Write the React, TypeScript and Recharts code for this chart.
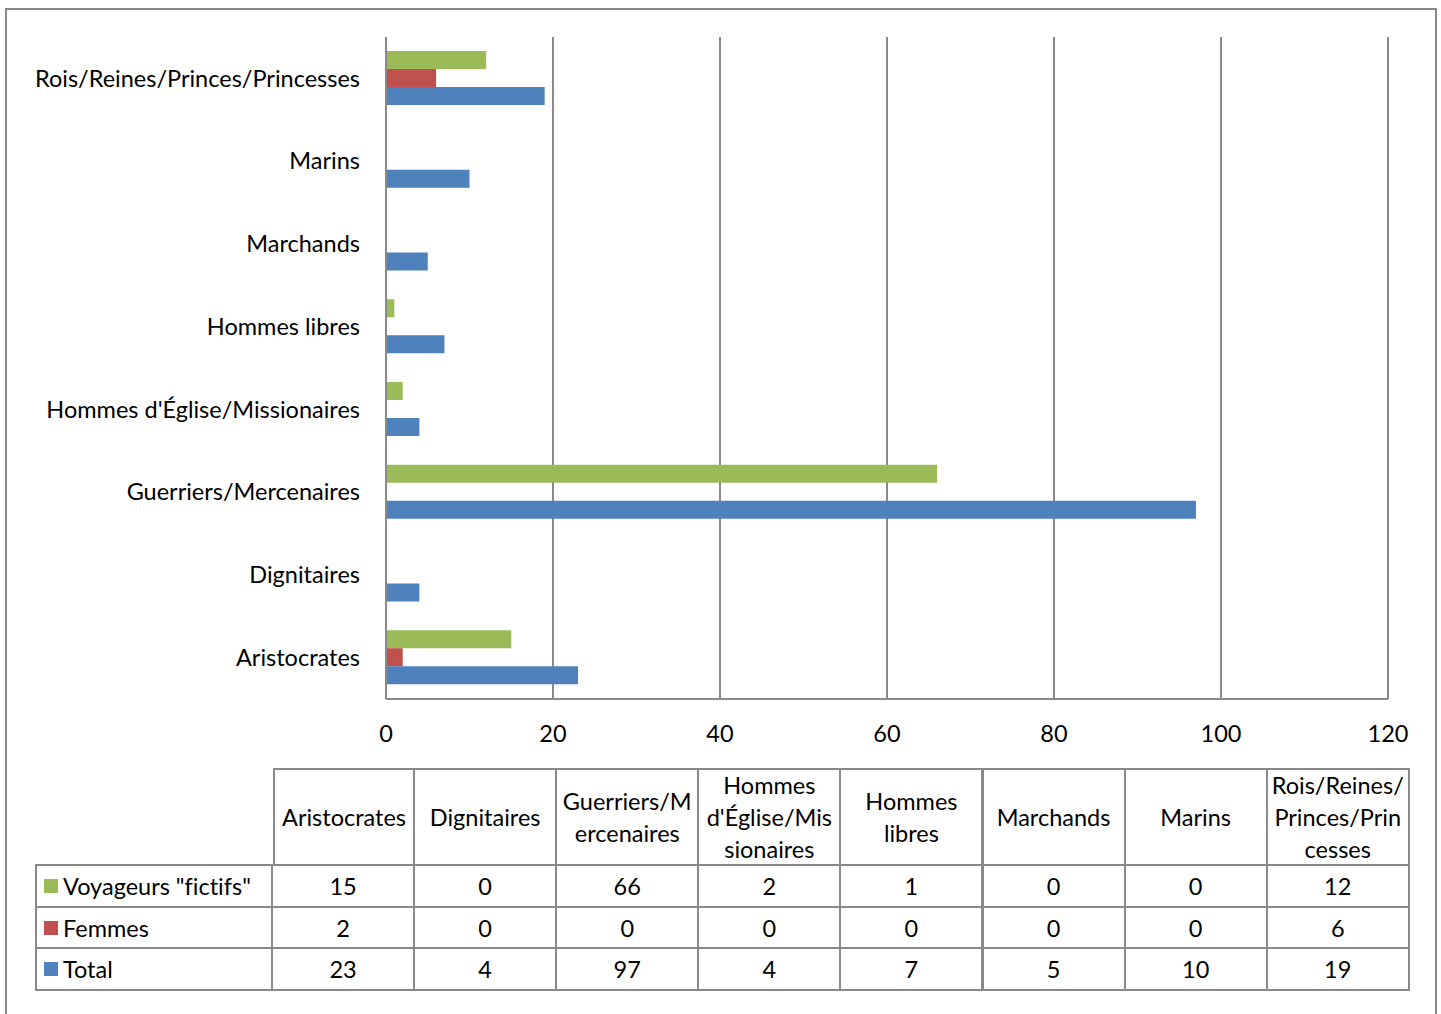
import React from "react";
import { BarChart, Bar, XAxis, YAxis, CartesianGrid } from "recharts";

const categories = [
  "Aristocrates",
  "Dignitaires",
  "Guerriers/Mercenaires",
  "Hommes d'Église/Missionaires",
  "Hommes libres",
  "Marchands",
  "Marins",
  "Rois/Reines/Princes/Princesses",
];
const headerLines = [
  ["Aristocrates"],
  ["Dignitaires"],
  ["Guerriers/M", "ercenaires"],
  ["Hommes", "d'Église/Mis", "sionaires"],
  ["Hommes", "libres"],
  ["Marchands"],
  ["Marins"],
  ["Rois/Reines/", "Princes/Prin", "cesses"],
];
const voyageurs = [15, 0, 66, 2, 1, 0, 0, 12];
const femmes = [2, 0, 0, 0, 0, 0, 0, 6];
const total = [23, 4, 97, 4, 7, 5, 10, 19];
const xTicks = [0, 20, 40, 60, 80, 100, 120];

const series = [
  { key: "voyageurs", name: 'Voyageurs "fictifs"', color: "#9BBB59", values: voyageurs },
  { key: "femmes", name: "Femmes", color: "#C0504D", values: femmes },
  { key: "total", name: "Total", color: "#4F81BD", values: total },
];

const data = categories.map((name, i) => ({
  name,
  voyageurs: voyageurs[i],
  femmes: femmes[i],
  total: total[i],
}));

const FONT = "Lato, 'Open Sans', sans-serif";
const FS = 23.5;
const GRID = "#898989";

export default function App() {
  const tableLeft = 28;
  const tableTop = 758;
  const firstW = 238;
  const colW = 142.1;
  const headH = 98;
  const rowH = 41.7;

  const cells: React.ReactNode[] = [];
  headerLines.forEach((lines, i) => {
    cells.push(
      <div
        key={"h" + i}
        style={{
          position: "absolute",
          left: tableLeft + firstW + i * colW - (i === 0 ? 0 : 2),
          top: tableTop,
          width: colW + (i === 0 ? 0 : 2),
          height: headH,
          border: `2px solid ${GRID}`,
          boxSizing: "border-box",
          display: "flex",
          flexDirection: "column",
          justifyContent: "center",
          alignItems: "center",
          lineHeight: "32px",
          whiteSpace: "nowrap",
        }}
      >
        {lines.map((l, j) => (
          <div key={j}>{l}</div>
        ))}
      </div>
    );
  });
  series.forEach((s, r) => {
    const top = tableTop + headH + r * rowH - 2;
    cells.push(
      <div
        key={"l" + r}
        style={{
          position: "absolute",
          left: tableLeft,
          top,
          width: firstW,
          height: rowH + 2,
          border: `2px solid ${GRID}`,
          boxSizing: "border-box",
          display: "flex",
          alignItems: "center",
          paddingLeft: 7,
          whiteSpace: "nowrap",
        }}
      >
        <span
          style={{
            display: "inline-block",
            width: 14,
            height: 14,
            background: s.color,
            marginRight: 5,
          }}
        />
        {s.name}
      </div>
    );
    s.values.forEach((v, i) => {
      cells.push(
        <div
          key={"c" + r + "-" + i}
          style={{
            position: "absolute",
            left: tableLeft + firstW + i * colW - 2,
            top,
            width: colW + 2,
            height: rowH + 2,
            border: `2px solid ${GRID}`,
            boxSizing: "border-box",
            display: "flex",
            alignItems: "center",
            justifyContent: "center",
          }}
        >
          {v}
        </div>
      );
    });
  });

  return (
    <div
      style={{
        position: "absolute",
        left: 5,
        top: 8,
        width: 1432,
        height: 1010,
        border: `2px solid ${GRID}`,
        boxSizing: "border-box",
        background: "#fff",
        fontFamily: FONT,
        fontSize: FS,
        color: "#000",
        fontVariantLigatures: "none",
      }}
    >
      <div style={{ position: "absolute", left: -2, top: -2 }}>
        <BarChart
          width={1432}
          height={761}
          data={data}
          layout="vertical"
          margin={{ top: 29, right: 49, bottom: 10, left: 0 }}
          barSize={18}
          barGap={0}
        >
          <CartesianGrid horizontal={false} vertical stroke={GRID} strokeWidth={2} />
          <XAxis
            type="number"
            domain={[0, 120]}
            ticks={xTicks}
            height={60}
            tickLine={false}
            tickSize={0}
            tickMargin={26}
            axisLine={{ stroke: GRID, strokeWidth: 2 }}
            tick={{ fill: "#000", fontSize: FS, fontFamily: FONT }}
          />
          <YAxis
            type="category"
            dataKey="name"
            reversed
            width={381}
            tickLine={false}
            tickSize={0}
            tickMargin={26}
            axisLine={{ stroke: GRID, strokeWidth: 2 }}
            tick={{ fill: "#000", fontSize: FS, fontFamily: FONT }}
            interval={0}
          />
          {series.map((s) => (
            <Bar
              key={s.key}
              dataKey={s.key}
              name={s.name}
              fill={s.color}
              isAnimationActive={false}
            />
          ))}
        </BarChart>
      </div>
      {cells}
    </div>
  );
}
